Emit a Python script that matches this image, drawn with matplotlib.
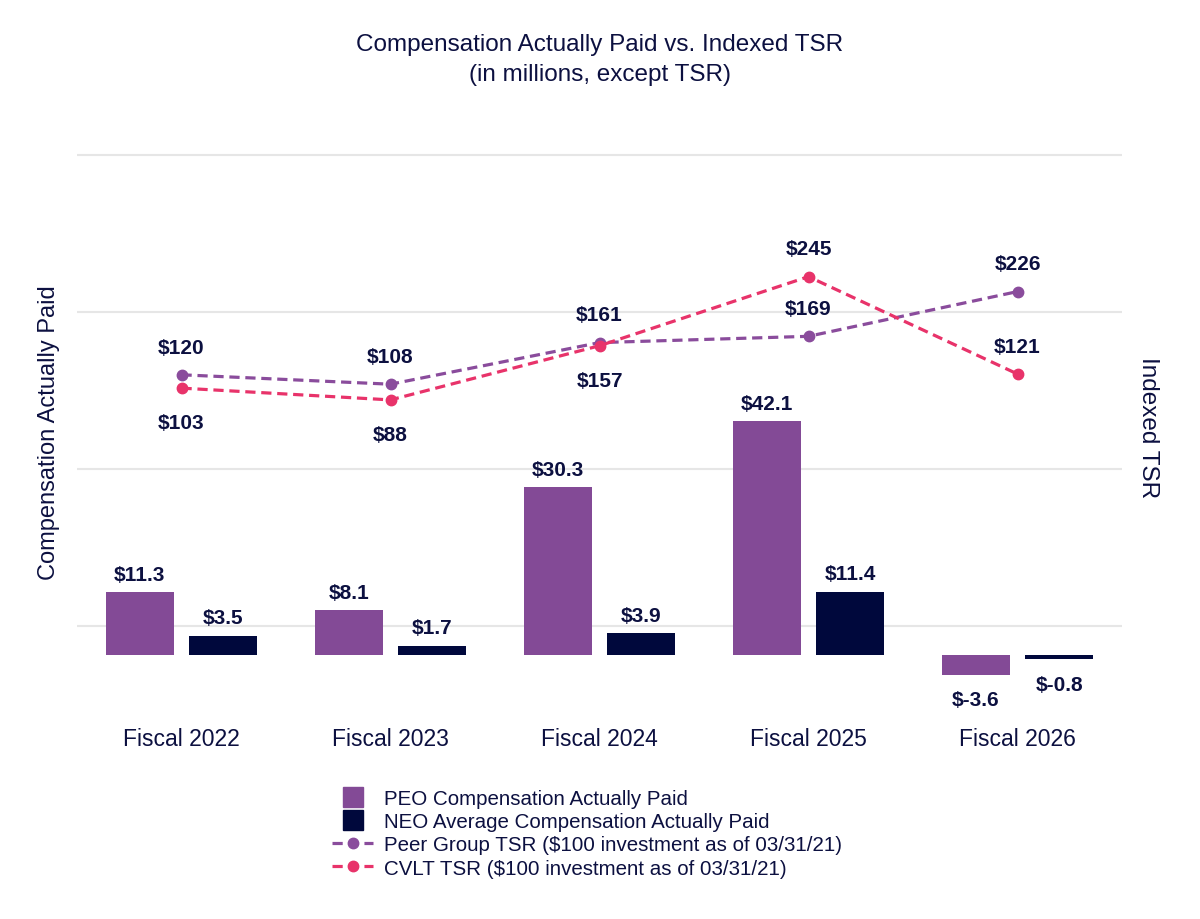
import numpy as np
import matplotlib.pyplot as plt
from matplotlib.lines import Line2D

plt.rcParams['font.family'] = ['Liberation Sans', 'DejaVu Sans']

# Data
years = ["Fiscal 2022", "Fiscal 2023", "Fiscal 2024", "Fiscal 2025", "Fiscal 2026"]
peo_cap = [11.3, 8.1, 30.3, 42.1, -3.6]
neo_cap = [3.5, 1.7, 3.9, 11.4, -0.8]
peer_tsr = [120, 108, 161, 169, 226]
cvlt_tsr = [103, 88, 157, 245, 121]

# label placement for TSR values: +1 above the point, -1 below
peer_pos = [1, 1, 1, 1, 1]
cvlt_pos = [-1, -1, -1, 1, 1]

PURPLE = '#834A96'
NAVY = '#00083C'
PEER = '#8A4C9C'
PINK = '#E8336A'
TEXT = '#0C1040'
GRID = '#E6E6E6'

fig = plt.figure(figsize=(12, 9.2), dpi=100)
ax = fig.add_axes([77 / 1200, 1 - 700 / 920, 1045 / 1200, 600 / 920])
ax2 = ax.twinx()

# TSR axis sits behind the bars so its gridlines don't cross them
ax2.set_zorder(ax.get_zorder() - 1)
ax.patch.set_visible(False)

x = np.arange(len(years))
w = 0.325
b1 = ax.bar(x - 0.2, peo_cap, w, color=PURPLE)
b2 = ax.bar(x + 0.2, neo_cap, w, color=NAVY)

for bars, vals in [(b1, peo_cap), (b2, neo_cap)]:
    for rect, v in zip(bars, vals):
        cx = rect.get_x() + rect.get_width() / 2
        if v >= 0:
            ax.annotate(f'${v:.1f}', (cx, v), xytext=(0, 6), textcoords='offset points',
                        ha='center', va='bottom', fontsize=15, fontweight='bold', color=TEXT)
        else:
            ax.annotate(f'${v:.1f}', (cx, v), xytext=(0, -11), textcoords='offset points',
                        ha='center', va='top', fontsize=15, fontweight='bold', color=TEXT)

ax.set_xlim(-0.5, len(years) - 0.5)
ax.set_ylim(-7.93, 100.2)
ax2.set_ylim(-293, 471.3)

ax2.plot(x, peer_tsr, color=PEER, lw=2.3, ls=(0, (3.2, 1.8)), marker='o', ms=7.5)
ax2.plot(x, cvlt_tsr, color=PINK, lw=2.3, ls=(0, (3.2, 1.8)), marker='o', ms=7.5)

for vals, pos in [(peer_tsr, peer_pos), (cvlt_tsr, cvlt_pos)]:
    for xi, v, p in zip(x, vals, pos):
        off = 20 if p > 0 else -25
        ax2.annotate(f'${v}', (xi, v), xytext=(0, off), textcoords='offset points',
                     ha='center', va='center', fontsize=15, fontweight='bold', color=TEXT)

ax2.set_yticks([-200, 0, 200, 400])
ax2.yaxis.grid(True, color=GRID, lw=1.5)
ax2.tick_params(axis='y', length=0, labelright=False)
ax.set_yticks([])
ax.set_xticks(x)
ax.set_xticklabels(years, fontsize=16.5, color=TEXT)
ax.tick_params(axis='x', length=0, pad=20.5)
for a in (ax, ax2):
    for s in a.spines.values():
        s.set_visible(False)

fig.text(49 / 1200, 1 - 433 / 920, 'Compensation Actually Paid', rotation=90,
         ha='center', va='center', fontsize=17, color=TEXT)
fig.text(1148 / 1200, 1 - 428 / 920, 'Indexed TSR', rotation=270,
         ha='center', va='center', fontsize=17.5, color=TEXT)

fig.text(0.5, 1 - 60 / 920, 'Compensation Actually Paid vs. Indexed TSR\n(in millions, except TSR)',
         ha='center', va='center', fontsize=17.5, color=TEXT, linespacing=1.52)

handles = [
    Line2D([], [], marker='s', ls='none', ms=15, color=PURPLE),
    Line2D([], [], marker='s', ls='none', ms=15, color=NAVY),
    Line2D([], [], color=PEER, lw=2.3, ls=(0, (3.2, 1.8)), marker='o', ms=7.5),
    Line2D([], [], color=PINK, lw=2.3, ls=(0, (3.2, 1.8)), marker='o', ms=7.5),
]
labels = ['PEO Compensation Actually Paid',
          'NEO Average Compensation Actually Paid',
          'Peer Group TSR ($100 investment as of 03/31/21)',
          'CVLT TSR ($100 investment as of 03/31/21)']
fig.legend(handles, labels, loc='upper center', bbox_to_anchor=(587 / 1200, 1 - 780 / 920),
           frameon=False, fontsize=14.8, labelcolor=TEXT, numpoints=1,
           handlelength=2.0, handletextpad=0.5, labelspacing=0.2, borderpad=0)

fig.savefig('out.png', dpi=100)
